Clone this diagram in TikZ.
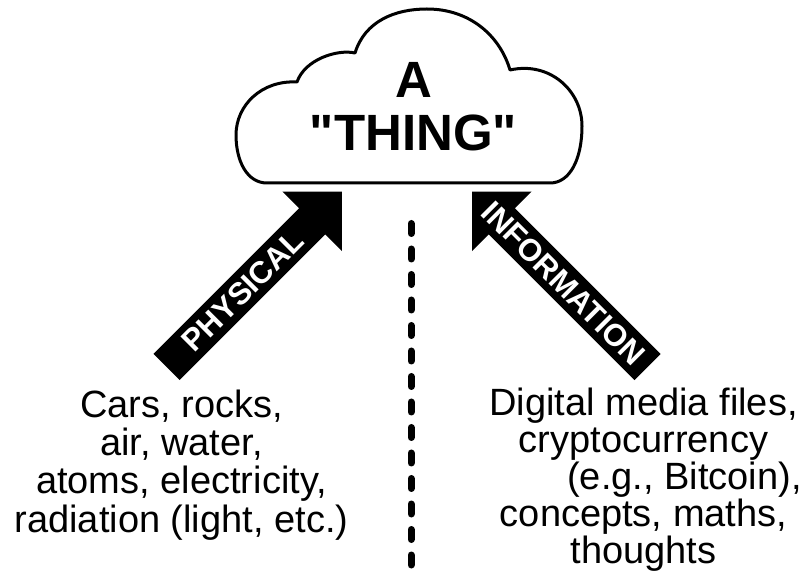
\documentclass[tikz,border=0pt]{standalone}
\usepackage{fontspec}
\setmainfont{Liberation Sans}[Ligatures=TeXOff]
\usetikzlibrary{calc, positioning}

\tikzset{
  cloudline/.style={draw=black, line width=3pt, fill=white, line join=round},
  bigarrow/.style={fill=black},
  arrowlabel/.style={text=white, font=\bfseries\fontsize{31}{31}\selectfont, inner sep=0pt},
  bodytext/.style={align=center, inner sep=0pt, anchor=north},
  divider/.style={line width=7pt, line cap=round, dash pattern=on 10pt off 15.5pt}
}

\begin{document}
\begin{tikzpicture}[x=1pt, y=1pt]
    \useasboundingbox (0,0) rectangle (804,571);

    % 1. Cloud with the main label
    \draw[cloudline] (267,388) .. controls (247,388) and (236,410) .. (236,436)
        .. controls (236,466) and (262,491) .. (297,489)
        .. controls (305,512) and (338,522) .. (355,518)
        .. controls (365,550) and (395,562) .. (427,562)
        .. controls (470,562) and (500,535) .. (510,501)
        .. controls (550,510) and (582,480) .. (582,445)
        .. controls (582,412) and (570,388) .. (550,388) -- cycle;
    \node[font=\bfseries\fontsize{51}{53}\selectfont, align=center, inner sep=0pt, anchor=north] (thing) at (413.5,509) {A\\"THING"};

    % 2. Left arrow (physical)
    \coordinate (phystail) at (166.5,204);
    \coordinate (phystip) at (342,379);
    \fill[bigarrow, shift={(phystail)}, rotate=45] (0,-18.5) -- (206,-18.5) -- (206,-42) -- (248,0) -- (206,42) -- (206,18.5) -- (0,18.5) -- cycle;
    \node[arrowlabel, rotate=45] (physical) at ($(phystail)!0.435!(phystip)$) {PHYSICAL};

    % 3. Right arrow (information)
    \coordinate (infotail) at (647.5,204);
    \coordinate (infotip) at (472,379);
    \fill[bigarrow, shift={(infotail)}, rotate=135] (0,-18.5) -- (206,-18.5) -- (206,-42) -- (248,0) -- (206,42) -- (206,18.5) -- (0,18.5) -- cycle;
    \node[arrowlabel, rotate=-45] (information) at ($(infotail)!0.48!(infotip)$) {INFORMATION};

    % 4. Dashed divider
    \coordinate (divtop) at (411,347.5);
    \coordinate (divbot) at (411,6);
    \draw[divider] (divtop) -- (divbot);

    % 5. Lists of examples
    \node[bodytext, font=\fontsize{38}{38.3}\selectfont] (physlist) at (181.5,181.5) {Cars, rocks,\\air, water,\\atoms, electricity,\\radiation (light, etc.)};
    \node[bodytext, font=\fontsize{38}{37}\selectfont] (infolist) at (643.5,183.5) {Digital media files,\\cryptocurrency\\\hspace*{82pt}(e.g., Bitcoin),\\concepts, maths,\\thoughts};
\end{tikzpicture}
\end{document}
